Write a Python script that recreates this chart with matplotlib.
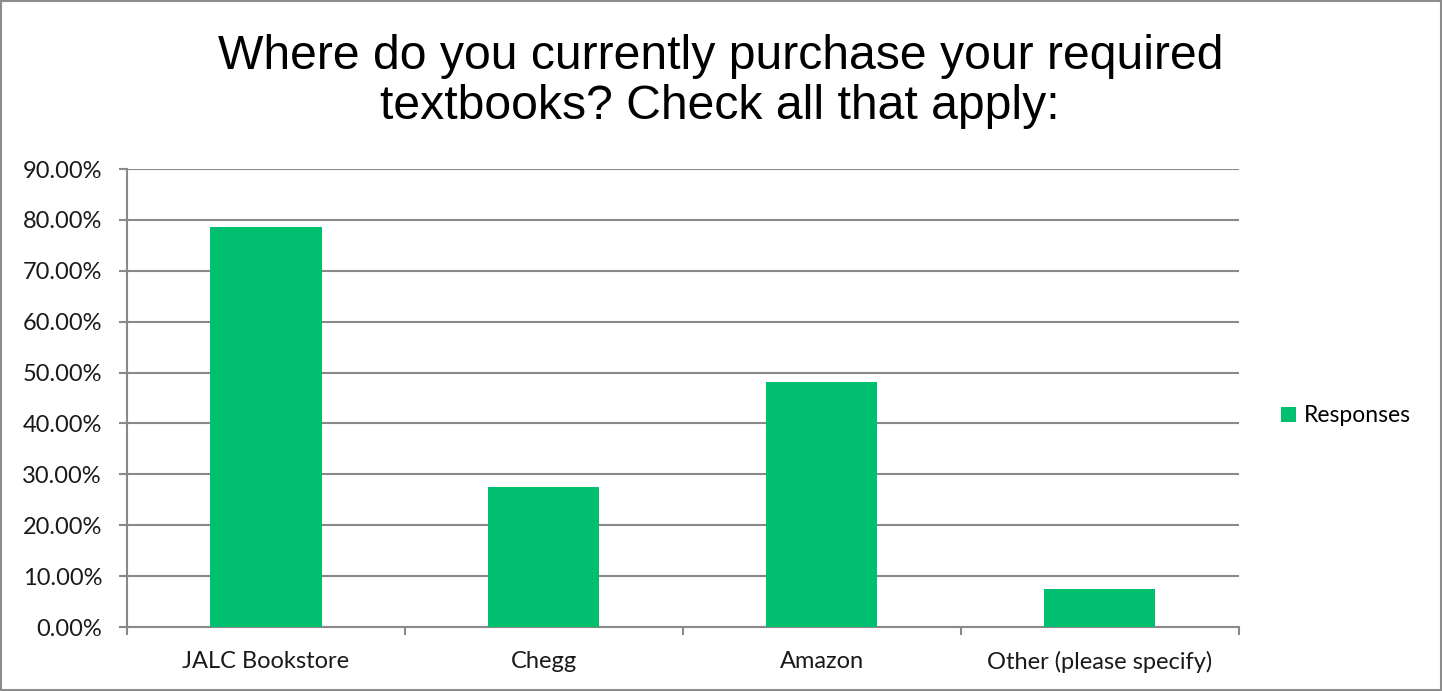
import matplotlib.pyplot as plt
from matplotlib.patches import Rectangle
from matplotlib.ticker import FuncFormatter, FixedLocator

# Survey data
categories = ['JALC Bookstore', 'Chegg', 'Amazon', 'Other (please specify)']
responses = [78.7, 27.6, 48.1, 7.45]
y_ticks = [0, 10, 20, 30, 40, 50, 60, 70, 80, 90]

bar_color = '#00BF6F'
grid_color = '#898989'

fig = plt.figure(figsize=(14.42, 6.91), dpi=100)
ax = fig.add_axes([0.0881, 0.0926, 0.7709, 0.6628])

x = list(range(len(categories)))
ax.bar(x, responses, width=0.4, color=bar_color, label='Responses', zorder=3)

ax.set_xlim(-0.5, len(categories) - 0.5)
ax.set_ylim(0, 90)
ax.set_yticks(y_ticks)
ax.yaxis.set_major_formatter(FuncFormatter(lambda v, p: f'{v:.2f}%'))
ax.grid(axis='y', color=grid_color, linewidth=1.5, zorder=0)

# category labels centred, tick marks on the boundaries
ax.set_xticks(x)
ax.set_xticklabels(categories)
ax.tick_params(axis='x', which='major', length=0, pad=17)
ax.xaxis.set_minor_locator(FixedLocator([i - 0.5 for i in range(len(categories) + 1)]))
ax.tick_params(axis='x', which='minor', length=6, width=1.5, color=grid_color)
ax.tick_params(axis='y', length=6, width=1.5, color=grid_color, pad=12)

for lab in ax.get_xticklabels() + ax.get_yticklabels():
    lab.set_fontfamily('Lato')
    lab.set_fontsize(17)
    lab.set_color('#1a1a1a')

for side in ['top', 'right']:
    ax.spines[side].set_visible(False)
for side in ['left', 'bottom']:
    ax.spines[side].set_color(grid_color)
    ax.spines[side].set_linewidth(1.5)

fig.text(0.4995, 0.882, 'Where do you currently purchase your required\ntextbooks? Check all that apply:',
         ha='center', va='center', fontsize=34.7, family='Liberation Sans', linespacing=1.12)

leg = fig.legend(loc='center left', bbox_to_anchor=(0.874, 0.398), frameon=False,
                 handlelength=0.65, handleheight=0.65, handletextpad=0.35,
                 prop={'family': 'Lato', 'size': 16.5})

# outer chart border
fig.patches.append(Rectangle((0.001, 0.001), 0.998, 0.997, transform=fig.transFigure,
                             fill=False, edgecolor='#8c8c8c', linewidth=1.5))

fig.savefig('out.png', dpi=100)
